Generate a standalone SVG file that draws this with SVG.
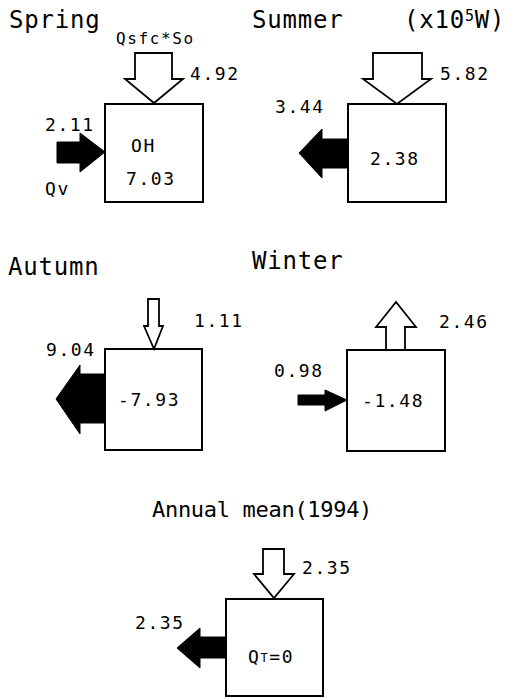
<svg xmlns="http://www.w3.org/2000/svg" width="509" height="699" viewBox="0 0 509 699">
  <style>
    .title { font-family: "DejaVu Sans Mono", "Liberation Mono", monospace; font-size: 24px; letter-spacing: 0.8px; fill: #000; }
    .num { font-family: "DejaVu Sans Mono", "Liberation Mono", monospace; font-size: 18px; letter-spacing: 1.6px; fill: #000; }
    .small { font-family: "DejaVu Sans Mono", "Liberation Mono", monospace; font-size: 16px; letter-spacing: 1.6px; fill: #000; }
    .box { fill: #fff; stroke: #000; stroke-width: 2; }
    .hollow { fill: #fff; stroke: #000; stroke-width: 1.8; stroke-linejoin: miter; }
    .solid { fill: #000; stroke: #000; stroke-width: 1; }
  </style>

  <rect width="509" height="699" fill="#fff"/>

  <!-- unit label -->
  <text class="title" x="404" y="28" style="letter-spacing:0.8px">(x10<tspan font-size="15" dy="-7">5</tspan><tspan dy="7">W)</tspan></text>

  <!-- Spring -->
  <g id="spring">
    <text class="title" x="9" y="28">Spring</text>
    <text class="small" x="116" y="44">Qsfc*So</text>
    <rect class="box" x="105" y="104" width="98" height="98"/>
    <text class="num" x="131" y="152">OH</text>
    <text class="num" x="126" y="185">7.03</text>
    <text class="num" x="190" y="80">4.92</text>
    <text class="num" x="45" y="131">2.11</text>
    <text class="num" x="45" y="195">Qv</text>
  </g>

  <!-- Summer -->
  <g id="summer">
    <text class="title" x="252" y="28">Summer</text>
    <rect class="box" x="348" y="104" width="98" height="98"/>
    <text class="num" x="370" y="165">2.38</text>
    <text class="num" x="440" y="80">5.82</text>
    <text class="num" x="275" y="113">3.44</text>
  </g>

  <!-- Autumn -->
  <g id="autumn">
    <text class="title" x="8" y="275">Autumn</text>
    <rect class="box" x="105" y="349" width="97" height="101"/>
    <text class="num" x="118" y="406">-7.93</text>
    <text class="num" x="194" y="327">1.11</text>
    <text class="num" x="46" y="356">9.04</text>
  </g>

  <!-- Winter -->
  <g id="winter">
    <text class="title" x="252" y="269">Winter</text>
    <rect class="box" x="347" y="350" width="98" height="101"/>
    <text class="num" x="362" y="407">-1.48</text>
    <text class="num" x="439" y="328">2.46</text>
    <text class="num" x="274" y="377">0.98</text>
  </g>

  <!-- Annual mean -->
  <g id="annual">
    <text class="title" x="152" y="517" style="font-size:22px;letter-spacing:-0.3px">Annual mean(1994)</text>
    <rect class="box" x="226" y="599" width="97" height="97"/>
    <text class="num" x="248" y="663">Q<tspan font-size="12" dy="-1">T</tspan><tspan dy="1">=0</tspan></text>
    <text class="num" x="302" y="574">2.35</text>
    <text class="num" x="135" y="629">2.35</text>
  </g>

  <!-- heat-flux arrows -->
  <g id="connectors">
    <!-- Spring -->
    <polygon class="hollow" points="135,53 172,53 172,79 183,79 154,103 125,79 135,79"/>
    <polygon class="solid" points="57,142 80,142 80,133 105,152 80,172 80,163 57,163"/>
    <!-- Summer -->
    <polygon class="hollow" points="373,53 422,53 422,79 431,79 397,104 363,79 373,79"/>
    <polygon class="solid" points="348,139 322,139 322,129 299,153 322,178 322,168 348,168"/>
    <!-- Autumn -->
    <polygon class="hollow" points="148,299 159,299 159,326 163,326 154,349 144,326 148,326"/>
    <polygon class="solid" points="105,374 80,374 80,365 56,399 80,434 80,423 105,423"/>
    <!-- Winter -->
    <polygon class="hollow" points="386,350 386,327 376,327 396,302 416,327 405,327 405,350"/>
    <polygon class="solid" points="298,395 325,395 325,390 347,400 325,411 325,405 298,405"/>
    <!-- Annual -->
    <polygon class="hollow" points="263,549 284,549 284,574 294,574 274,598 254,574 263,574"/>
    <polygon class="solid" points="226,637 200,637 200,628 177,648 200,668 200,658 226,658"/>
  </g>
</svg>
